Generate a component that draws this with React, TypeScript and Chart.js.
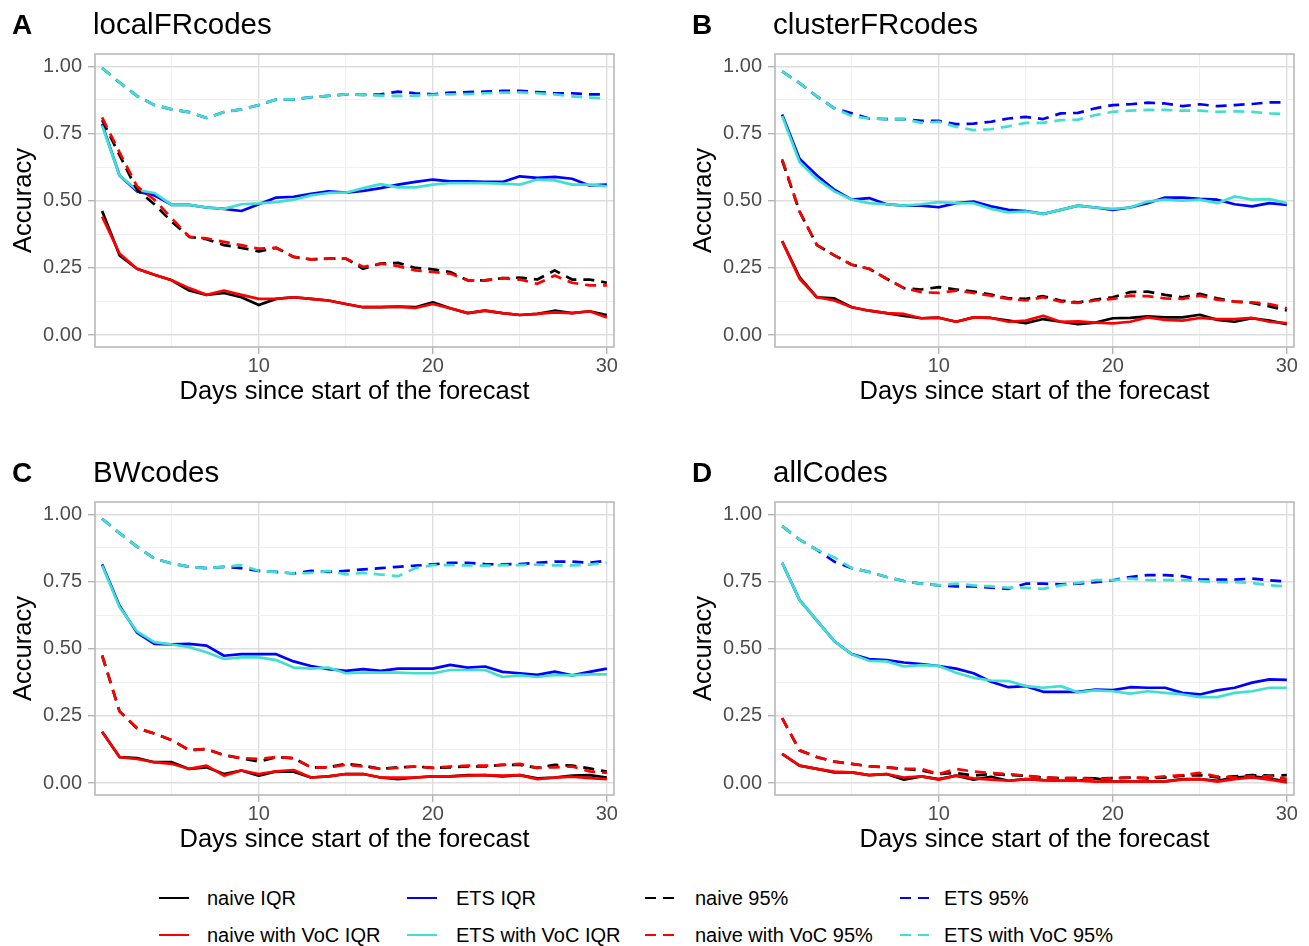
import { useEffect, useRef } from "react";
import { Chart, registerables } from "chart.js";

Chart.register(...registerables);

// ---------- categories / ticks ----------
const days = [1, 2, 3, 4, 5, 6, 7, 8, 9, 10, 11, 12, 13, 14, 15, 16, 17, 18, 19, 20, 21, 22, 23, 24, 25, 26, 27, 28, 29, 30];
const xTickValues = [5, 10, 15, 20, 25, 30];
const xTickLabels = ["", "10", "", "20", "", "30"];
const yTickValues = [0, 0.125, 0.25, 0.375, 0.5, 0.625, 0.75, 0.875, 1];
const yTickLabels = ["0.00", "", "0.25", "", "0.50", "", "0.75", "", "1.00"];

const seriesNames = ["naive IQR", "naive with VoC IQR", "ETS IQR", "ETS with VoC IQR", "naive 95%", "naive with VoC 95%", "ETS 95%", "ETS with VoC 95%"];
const seriesColors = ["#000000", "#FF0000", "#0000FF", "#40E0D0", "#000000", "#FF0000", "#0000FF", "#40E0D0"];
const seriesDashed = [false, false, false, false, true, true, true, true];
const legendOrder = [0, 2, 4, 6, 1, 3, 5, 7];

const panelLetters = ["A", "B", "C", "D"];
const panelTitles = ["localFRcodes", "clusterFRcodes", "BWcodes", "allCodes"];

// ---------- Panel A: localFRcodes ----------
const A_naiveIQR = [0.462, 0.297, 0.247, 0.225, 0.204, 0.166, 0.150, 0.157, 0.141, 0.112, 0.135, 0.141, 0.135, 0.129, 0.116, 0.104, 0.104, 0.106, 0.104, 0.122, 0.100, 0.082, 0.091, 0.082, 0.075, 0.079, 0.091, 0.082, 0.089, 0.075];
const A_naiveVocIQR = [0.441, 0.304, 0.247, 0.225, 0.204, 0.175, 0.150, 0.166, 0.150, 0.135, 0.135, 0.141, 0.135, 0.129, 0.116, 0.104, 0.104, 0.106, 0.101, 0.116, 0.100, 0.082, 0.091, 0.082, 0.075, 0.079, 0.085, 0.082, 0.089, 0.066];
const A_etsIQR = [0.785, 0.594, 0.535, 0.520, 0.485, 0.485, 0.475, 0.470, 0.462, 0.487, 0.512, 0.515, 0.526, 0.535, 0.530, 0.537, 0.547, 0.560, 0.570, 0.579, 0.572, 0.572, 0.570, 0.570, 0.591, 0.585, 0.589, 0.582, 0.557, 0.560];
const A_etsVocIQR = [0.780, 0.594, 0.540, 0.529, 0.485, 0.485, 0.475, 0.470, 0.487, 0.490, 0.495, 0.504, 0.520, 0.529, 0.530, 0.547, 0.562, 0.550, 0.550, 0.560, 0.566, 0.566, 0.566, 0.564, 0.560, 0.579, 0.576, 0.560, 0.560, 0.554];
const A_naive95 = [0.800, 0.670, 0.541, 0.487, 0.422, 0.366, 0.357, 0.335, 0.325, 0.312, 0.325, 0.291, 0.282, 0.285, 0.285, 0.247, 0.266, 0.269, 0.250, 0.245, 0.235, 0.204, 0.204, 0.212, 0.214, 0.207, 0.241, 0.207, 0.207, 0.195];
const A_naiveVoc95 = [0.810, 0.680, 0.554, 0.504, 0.435, 0.366, 0.360, 0.347, 0.335, 0.322, 0.325, 0.291, 0.282, 0.285, 0.285, 0.254, 0.266, 0.257, 0.241, 0.235, 0.229, 0.204, 0.204, 0.212, 0.207, 0.191, 0.222, 0.195, 0.185, 0.185];
const A_ets95 = [0.994, 0.940, 0.890, 0.856, 0.840, 0.830, 0.808, 0.830, 0.840, 0.856, 0.877, 0.877, 0.885, 0.890, 0.896, 0.894, 0.896, 0.906, 0.900, 0.896, 0.902, 0.904, 0.906, 0.909, 0.909, 0.904, 0.900, 0.900, 0.896, 0.896];
const A_etsVoc95 = [0.994, 0.940, 0.890, 0.856, 0.840, 0.830, 0.808, 0.830, 0.840, 0.856, 0.877, 0.877, 0.885, 0.890, 0.896, 0.894, 0.891, 0.890, 0.891, 0.894, 0.896, 0.897, 0.900, 0.902, 0.903, 0.900, 0.896, 0.888, 0.884, 0.880];

// ---------- Panel B: clusterFRcodes ----------
const B_naiveIQR = [0.350, 0.216, 0.141, 0.137, 0.104, 0.091, 0.082, 0.072, 0.063, 0.065, 0.050, 0.066, 0.064, 0.054, 0.045, 0.060, 0.050, 0.041, 0.047, 0.063, 0.064, 0.070, 0.066, 0.066, 0.076, 0.057, 0.050, 0.063, 0.054, 0.041];
const B_naiveVocIQR = [0.350, 0.210, 0.141, 0.129, 0.104, 0.091, 0.082, 0.079, 0.063, 0.065, 0.050, 0.066, 0.064, 0.050, 0.054, 0.072, 0.050, 0.051, 0.047, 0.044, 0.050, 0.066, 0.057, 0.054, 0.064, 0.060, 0.060, 0.064, 0.050, 0.045];
const B_etsIQR = [0.821, 0.656, 0.594, 0.541, 0.504, 0.510, 0.487, 0.482, 0.482, 0.476, 0.491, 0.497, 0.479, 0.466, 0.462, 0.451, 0.466, 0.482, 0.475, 0.466, 0.475, 0.491, 0.512, 0.512, 0.507, 0.504, 0.487, 0.479, 0.491, 0.485];
const B_etsVocIQR = [0.815, 0.644, 0.581, 0.535, 0.504, 0.491, 0.487, 0.482, 0.487, 0.495, 0.491, 0.491, 0.470, 0.457, 0.460, 0.451, 0.466, 0.482, 0.475, 0.470, 0.475, 0.497, 0.504, 0.500, 0.504, 0.491, 0.516, 0.504, 0.506, 0.491];
const B_naive95 = [0.650, 0.460, 0.335, 0.297, 0.262, 0.247, 0.210, 0.175, 0.170, 0.179, 0.170, 0.162, 0.151, 0.137, 0.135, 0.145, 0.129, 0.122, 0.132, 0.141, 0.160, 0.162, 0.150, 0.141, 0.154, 0.137, 0.125, 0.120, 0.107, 0.092];
const B_naiveVoc95 = [0.655, 0.460, 0.335, 0.297, 0.262, 0.247, 0.210, 0.175, 0.160, 0.157, 0.166, 0.157, 0.147, 0.135, 0.129, 0.141, 0.125, 0.120, 0.129, 0.135, 0.147, 0.145, 0.137, 0.135, 0.147, 0.132, 0.125, 0.122, 0.116, 0.100];
const B_ets95 = [0.981, 0.938, 0.888, 0.844, 0.825, 0.806, 0.804, 0.804, 0.797, 0.797, 0.785, 0.787, 0.794, 0.806, 0.812, 0.804, 0.825, 0.827, 0.844, 0.856, 0.859, 0.865, 0.862, 0.852, 0.859, 0.852, 0.856, 0.860, 0.866, 0.866];
const B_etsVoc95 = [0.981, 0.938, 0.888, 0.844, 0.815, 0.806, 0.804, 0.804, 0.790, 0.794, 0.775, 0.763, 0.766, 0.777, 0.790, 0.790, 0.800, 0.802, 0.819, 0.831, 0.835, 0.838, 0.838, 0.835, 0.835, 0.831, 0.833, 0.831, 0.825, 0.822];

// ---------- Panel C: BWcodes ----------
const C_naiveIQR = [0.191, 0.097, 0.093, 0.078, 0.078, 0.053, 0.059, 0.034, 0.047, 0.028, 0.044, 0.043, 0.021, 0.025, 0.034, 0.034, 0.021, 0.015, 0.021, 0.025, 0.025, 0.030, 0.030, 0.025, 0.030, 0.018, 0.021, 0.028, 0.030, 0.021];
const C_naiveVocIQR = [0.191, 0.097, 0.090, 0.078, 0.072, 0.053, 0.065, 0.028, 0.047, 0.034, 0.044, 0.049, 0.021, 0.025, 0.034, 0.034, 0.021, 0.021, 0.021, 0.025, 0.025, 0.028, 0.030, 0.028, 0.030, 0.015, 0.021, 0.024, 0.019, 0.015];
const C_etsIQR = [0.814, 0.660, 0.560, 0.518, 0.516, 0.518, 0.512, 0.474, 0.480, 0.480, 0.480, 0.453, 0.436, 0.424, 0.418, 0.424, 0.418, 0.426, 0.426, 0.426, 0.440, 0.430, 0.434, 0.414, 0.409, 0.403, 0.415, 0.401, 0.414, 0.426];
const C_etsVocIQR = [0.810, 0.655, 0.565, 0.525, 0.516, 0.506, 0.487, 0.462, 0.468, 0.468, 0.458, 0.430, 0.426, 0.430, 0.409, 0.411, 0.411, 0.411, 0.409, 0.409, 0.421, 0.421, 0.421, 0.395, 0.401, 0.395, 0.403, 0.401, 0.405, 0.405];
const C_naive95 = [0.475, 0.267, 0.204, 0.185, 0.160, 0.123, 0.127, 0.104, 0.093, 0.080, 0.097, 0.093, 0.059, 0.059, 0.072, 0.065, 0.053, 0.059, 0.062, 0.057, 0.059, 0.062, 0.062, 0.068, 0.068, 0.057, 0.068, 0.065, 0.055, 0.043];
const C_naiveVoc95 = [0.475, 0.267, 0.206, 0.185, 0.160, 0.123, 0.127, 0.104, 0.093, 0.090, 0.097, 0.093, 0.059, 0.059, 0.068, 0.062, 0.053, 0.057, 0.062, 0.057, 0.062, 0.065, 0.065, 0.068, 0.072, 0.057, 0.059, 0.062, 0.044, 0.038];
const C_ets95 = [0.984, 0.930, 0.880, 0.836, 0.817, 0.805, 0.800, 0.805, 0.800, 0.790, 0.786, 0.780, 0.790, 0.786, 0.790, 0.795, 0.800, 0.805, 0.809, 0.814, 0.820, 0.820, 0.815, 0.814, 0.815, 0.820, 0.824, 0.824, 0.820, 0.828];
const C_etsVoc95 = [0.984, 0.930, 0.880, 0.836, 0.817, 0.805, 0.800, 0.805, 0.811, 0.790, 0.786, 0.780, 0.782, 0.790, 0.777, 0.782, 0.776, 0.770, 0.800, 0.811, 0.811, 0.810, 0.809, 0.811, 0.811, 0.813, 0.810, 0.810, 0.813, 0.820];

// ---------- Panel D: allCodes ----------
const D_naiveIQR = [0.109, 0.065, 0.053, 0.040, 0.040, 0.030, 0.034, 0.013, 0.025, 0.015, 0.028, 0.013, 0.024, 0.009, 0.015, 0.011, 0.009, 0.009, 0.018, 0.006, 0.006, 0.006, 0.007, 0.015, 0.015, 0.009, 0.021, 0.025, 0.018, 0.005];
const D_naiveVocIQR = [0.109, 0.065, 0.053, 0.043, 0.040, 0.030, 0.034, 0.021, 0.025, 0.013, 0.028, 0.018, 0.013, 0.009, 0.015, 0.011, 0.009, 0.009, 0.006, 0.006, 0.006, 0.006, 0.007, 0.013, 0.015, 0.006, 0.015, 0.021, 0.013, 0.003];
const D_etsIQR = [0.820, 0.682, 0.605, 0.528, 0.480, 0.462, 0.458, 0.449, 0.443, 0.436, 0.426, 0.409, 0.377, 0.357, 0.361, 0.340, 0.340, 0.340, 0.348, 0.346, 0.357, 0.355, 0.355, 0.336, 0.330, 0.345, 0.355, 0.374, 0.386, 0.384];
const D_etsVocIQR = [0.820, 0.682, 0.605, 0.528, 0.480, 0.455, 0.453, 0.434, 0.439, 0.436, 0.411, 0.392, 0.382, 0.380, 0.361, 0.355, 0.361, 0.338, 0.345, 0.342, 0.333, 0.342, 0.336, 0.330, 0.320, 0.320, 0.336, 0.342, 0.355, 0.355];
const D_naive95 = [0.242, 0.122, 0.097, 0.080, 0.072, 0.063, 0.059, 0.053, 0.047, 0.034, 0.038, 0.028, 0.034, 0.030, 0.028, 0.021, 0.019, 0.019, 0.018, 0.019, 0.021, 0.018, 0.021, 0.028, 0.030, 0.021, 0.025, 0.030, 0.028, 0.030];
const D_naiveVoc95 = [0.242, 0.122, 0.097, 0.080, 0.072, 0.063, 0.059, 0.053, 0.053, 0.034, 0.053, 0.043, 0.038, 0.034, 0.028, 0.021, 0.019, 0.019, 0.015, 0.018, 0.021, 0.020, 0.025, 0.030, 0.038, 0.025, 0.021, 0.025, 0.025, 0.016];
const D_ets95 = [0.956, 0.906, 0.868, 0.824, 0.800, 0.786, 0.767, 0.752, 0.742, 0.736, 0.732, 0.732, 0.727, 0.723, 0.742, 0.742, 0.740, 0.742, 0.748, 0.755, 0.767, 0.774, 0.774, 0.770, 0.758, 0.757, 0.757, 0.761, 0.755, 0.750];
const D_etsVoc95 = [0.956, 0.906, 0.868, 0.840, 0.800, 0.786, 0.767, 0.752, 0.742, 0.736, 0.742, 0.736, 0.732, 0.727, 0.727, 0.723, 0.736, 0.745, 0.755, 0.755, 0.761, 0.755, 0.755, 0.755, 0.752, 0.748, 0.748, 0.745, 0.736, 0.732];

const panelSeries = [
  [A_naiveIQR, A_naiveVocIQR, A_etsIQR, A_etsVocIQR, A_naive95, A_naiveVoc95, A_ets95, A_etsVoc95],
  [B_naiveIQR, B_naiveVocIQR, B_etsIQR, B_etsVocIQR, B_naive95, B_naiveVoc95, B_ets95, B_etsVoc95],
  [C_naiveIQR, C_naiveVocIQR, C_etsIQR, C_etsVocIQR, C_naive95, C_naiveVoc95, C_ets95, C_etsVoc95],
  [D_naiveIQR, D_naiveVocIQR, D_etsIQR, D_etsVocIQR, D_naive95, D_naiveVoc95, D_ets95, D_etsVoc95],
];

// ---------- layout ----------
const FONT = "'Liberation Sans', Arial, Helvetica, sans-serif";
const CANVAS_W = 629;
const CANVAS_H = 420;
const panelLeft = [0, 680, 0, 680];
const panelTop = [0, 0, 448, 448];
const LINE_W = 2.7;

const isMajorX = (v: number) => Math.abs(v % 10) < 1e-6;
const isMajorY = (v: number) => Math.abs(v * 4 - Math.round(v * 4)) < 1e-6;

const panelBorder = {
  id: "panelBorder",
  afterDraw(chart: any) {
    const { ctx, chartArea } = chart;
    ctx.save();
    ctx.strokeStyle = "#B8B8B8";
    ctx.lineWidth = 1.6;
    ctx.strokeRect(chartArea.left, chartArea.top, chartArea.right - chartArea.left, chartArea.bottom - chartArea.top);
    ctx.restore();
  },
};

function buildConfig(pi: number): any {
  const datasets = panelSeries[pi].map((vals, si) => ({
    label: seriesNames[si],
    data: days.map((d, i) => ({ x: d, y: vals[i] })),
    borderColor: seriesColors[si],
    backgroundColor: seriesColors[si],
    borderWidth: LINE_W,
    borderDash: seriesDashed[si] ? [11, 7] : [],
    borderJoinStyle: "round",
    borderCapStyle: "butt",
    pointRadius: 0,
    pointHoverRadius: 0,
    tension: 0,
    fill: false,
    order: 8 - si,
  }));
  return {
    type: "line",
    data: { datasets },
    plugins: [panelBorder],
    options: {
      responsive: false,
      animation: false,
      devicePixelRatio: 1,
      layout: { padding: { top: 54, right: 15, bottom: 0, left: 0 } },
      plugins: { legend: { display: false }, tooltip: { enabled: false }, title: { display: false } },
      events: [],
      scales: {
        x: {
          type: "linear",
          min: 0.59,
          max: 30.41,
          afterBuildTicks: (s: any) => {
            s.ticks = xTickValues.map((v) => ({ value: v }));
          },
          afterFit: (s: any) => {
            s.height = 73;
          },
          border: { display: false },
          grid: {
            color: (c: any) => (c.tick && isMajorX(c.tick.value) ? "#DEDEDE" : "#EEEEEE"),
            lineWidth: (c: any) => (c.tick && isMajorX(c.tick.value) ? 1.4 : 0.9),
            tickLength: 7,
            tickColor: (c: any) => (c.tick && isMajorX(c.tick.value) ? "#B3B3B3" : "rgba(0,0,0,0)"),
            tickWidth: 1.4,
          },
          ticks: {
            autoSkip: false,
            maxRotation: 0,
            minRotation: 0,
            padding: 0,
            color: "#4D4D4D",
            font: { family: FONT, size: 20 },
            callback: (v: number) => {
              const k = xTickValues.indexOf(v);
              return k >= 0 ? xTickLabels[k] : "";
            },
          },
          title: {
            display: true,
            text: "Days since start of the forecast",
            color: "#000000",
            font: { family: FONT, size: 25.5 },
            padding: { top: 0, bottom: 12.8 },
          },
        },
        y: {
          type: "linear",
          min: -0.044,
          max: 1.046,
          afterBuildTicks: (s: any) => {
            s.ticks = yTickValues.map((v) => ({ value: v }));
          },
          afterFit: (s: any) => {
            s.width = 95;
          },
          border: { display: false },
          grid: {
            color: (c: any) => (c.tick && isMajorY(c.tick.value) ? "#DEDEDE" : "#EEEEEE"),
            lineWidth: (c: any) => (c.tick && isMajorY(c.tick.value) ? 1.4 : 0.9),
            tickLength: 7,
            tickColor: (c: any) => (c.tick && isMajorY(c.tick.value) ? "#B3B3B3" : "rgba(0,0,0,0)"),
            tickWidth: 1.4,
          },
          ticks: {
            autoSkip: false,
            padding: 6,
            color: "#4D4D4D",
            font: { family: FONT, size: 20 },
            callback: (v: number) => {
              const k = yTickValues.findIndex((t) => Math.abs(t - v) < 1e-9);
              return k >= 0 ? yTickLabels[k] : "";
            },
          },
          title: {
            display: true,
            text: "Accuracy",
            color: "#000000",
            font: { family: FONT, size: 25.5 },
            padding: { top: 8.2, bottom: 0 },
          },
        },
      },
    },
  };
}

function Panel({ index }: { index: number }) {
  const ref = useRef<HTMLCanvasElement | null>(null);
  useEffect(() => {
    if (!ref.current) return;
    const chart = new Chart(ref.current, buildConfig(index));
    return () => chart.destroy();
  }, [index]);
  const left = panelLeft[index];
  const top = panelTop[index];
  return (
    <>
      <canvas
        ref={ref}
        width={CANVAS_W}
        height={CANVAS_H}
        style={{ position: "absolute", left, top, width: CANVAS_W, height: CANVAS_H, display: "block" }}
      />
      <div
        style={{
          position: "absolute",
          left: left + 12,
          top: top + 10.6,
          fontFamily: FONT,
          fontWeight: 700,
          fontSize: 28,
          lineHeight: 1,
          color: "#000",
          whiteSpace: "nowrap",
        }}
      >
        {panelLetters[index]}
      </div>
      <div
        style={{
          position: "absolute",
          left: left + 93,
          top: top + 9.3,
          fontFamily: FONT,
          fontSize: 29.5,
          lineHeight: 1,
          color: "#000",
          whiteSpace: "nowrap",
        }}
      >
        {panelTitles[index]}
      </div>
    </>
  );
}

const legendKeyX = [159, 407, 645, 900];
const legendTextX = [207, 456, 695, 944];
const legendRowY = [898, 935];

function LegendKey({ color, dashed, x, y }: { color: string; dashed: boolean; x: number; y: number }) {
  const common = { position: "absolute" as const, top: y - LINE_W / 2, height: LINE_W, background: color };
  if (!dashed) return <div style={{ ...common, left: x, width: 30 }} />;
  return (
    <>
      <div style={{ ...common, left: x, width: 11 }} />
      <div style={{ ...common, left: x + 18, width: 11 }} />
    </>
  );
}

function Legend() {
  return (
    <>
      {legendOrder.map((si, pos) => {
        const col = pos % 4;
        const row = Math.floor(pos / 4);
        const y = legendRowY[row];
        return (
          <div key={si}>
            <LegendKey color={seriesColors[si]} dashed={seriesDashed[si]} x={legendKeyX[col]} y={y} />
            <div
              style={{
                position: "absolute",
                left: legendTextX[col],
                top: y - 10,
                height: 20,
                lineHeight: "20px",
                fontFamily: FONT,
                fontSize: 20,
                color: "#000",
                whiteSpace: "nowrap",
              }}
            >
              {seriesNames[si]}
            </div>
          </div>
        );
      })}
    </>
  );
}

export default function App() {
  return (
    <div
      style={{
        position: "absolute",
        left: 0,
        top: 0,
        width: 1309,
        height: 946,
        background: "#FFFFFF",
        overflow: "hidden",
      }}
    >
      {[0, 1, 2, 3].map((i) => (
        <Panel key={i} index={i} />
      ))}
      <Legend />
    </div>
  );
}
